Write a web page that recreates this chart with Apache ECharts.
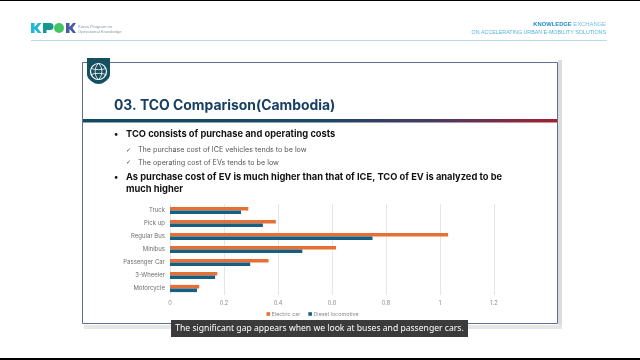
<!DOCTYPE html>
<html><head><meta charset="utf-8">
<style>html,body{margin:0;padding:0;background:#fff}#c{width:640px;height:360px}</style>
<script src="https://cdn.jsdelivr.net/npm/echarts@6/dist/echarts.min.js"></script>
</head><body><div id="c"></div>
<script>
const categories = ['Truck','Pick up','Regular Bus','Minibus','Passenger Car','3-Wheeler','Motorcycle'];
const electricCar = [0.29,0.392,1.03,0.615,0.365,0.175,0.108];
const dieselLocomotive = [0.263,0.344,0.75,0.49,0.297,0.167,0.1];
const seriesNames = ['Electric car','Diesel locomotive'];
const pageTitle = '03. TCO Comparison(Cambodia)';
const bullets = ['TCO consists of purchase and operating costs','As purchase cost of EV is much higher than that of ICE, TCO of EV is analyzed to be','much higher'];
const checks = ['The purchase cost of ICE vehicles tends to be low','The operating cost of EVs tends to be low'];
const caption = 'The significant gap appears when we look at buses and passenger cars.';
const F = 'Inter, "Open Sans", sans-serif';
const txt = (x,y,text,size,fill,weight,align,family) => ({type:'text',x,y,z:5,style:{text,fontSize:size,fill,fontWeight:weight||'normal',fontFamily:family||F,align:align||'left',verticalAlign:'middle'}});
const rect = (x,y,w,h,fill,z) => ({type:'rect',shape:{x,y,width:w,height:h},z:z||1,style:{fill}});
const curve = (x1,y1,cpx1,cpy1,cpx2,cpy2,x2,y2,w) => ({type:'bezierCurve',z:5,shape:{x1,y1,cpx1,cpy1,cpx2,cpy2,x2,y2},style:{fill:'none',stroke:'#fff',lineWidth:w}});
const graphic = [
 rect(0,0,640,1,'#000',1), rect(0,358,640,2,'#000',1),
 // header
 {type:'polygon',z:2,shape:{points:[[31,23],[34.5,23],[34.5,27],[38,23],[41.5,23],[37.5,28],[41.5,33],[38,33],[34.5,29],[34.5,33],[31,33]]},style:{fill:'#22b8d8'}},
 rect(43,23,3.5,10,'#17988f',2), rect(43,23,7,7,'#17988f',2),
 {type:'circle',z:2,shape:{cx:50,cy:26.5,r:3.5},style:{fill:'#17988f'}},
 {type:'circle',z:2,shape:{cx:59,cy:28,r:5},style:{fill:'#45c463'}},
 {type:'polygon',z:2,shape:{points:[[66,23],[69.5,23],[69.5,27],[73,23],[76,23],[72.5,28],[76,33],[73,33],[69.5,29],[69.5,33],[66,33]]},style:{fill:'#4a5aa8'}},
 txt(78,26.5,'Korea Program on',4.2,'#8a9aa8','normal','left','"Liberation Sans"'), txt(78,32,'Operational Knowledge',4.2,'#8a9aa8','normal','left','"Liberation Sans"'),
 rect(31,40,576,1,'#b9dbe8',1),
 {type:'text',x:606,y:24.5,z:5,scaleX:0.94,originX:0,style:{align:'right',verticalAlign:'middle',fontFamily:'"Liberation Sans"',fontSize:6.2,text:'{a|KNOWLEDGE} {b|EXCHANGE}',rich:{a:{fill:'#1f8fc4',fontWeight:'bold',fontSize:6.2,fontFamily:'"Liberation Sans"'},b:{fill:'#6fbfe0',fontSize:6.2,fontFamily:'"Liberation Sans"'}}}},
 Object.assign(txt(606,32.5,'ON ACCELERATING URBAN E-MOBILITY SOLUTIONS',6.2,'#55b4dc','normal','right','"Liberation Sans"'),{scaleX:0.86,originX:0}),
 // slide frame
 rect(558,60,4,268,'#dcdcdc',1),
 rect(84,325,478,4,'#e6e6e6',1),
 {type:'rect',z:2,shape:{x:82.5,y:62.5,width:475,height:261},style:{fill:'#fff',stroke:'#5c7096',lineWidth:1}},
 {type:'rect',z:3,shape:{x:83,y:119,width:474,height:3.5},style:{fill:new echarts.graphic.LinearGradient(0,0,1,0,[{offset:0,color:'#124a62'},{offset:.5,color:'#1d4766'},{offset:.75,color:'#4a3a60'},{offset:1,color:'#a3212f'}])}},
 {type:'polygon',z:4,shape:{points:[[87,58],[110,58],[110,75],[109,78],[106,81],[102,83.5],[98.5,84],[95,83.5],[91,81],[88,78],[87,75]]},style:{fill:'#14505f'}},
 {type:'circle',z:5,shape:{cx:98.5,cy:71.5,r:8},style:{fill:'none',stroke:'#fff',lineWidth:1.2}},
 curve(98.5,63.5,94,67,94,76,98.5,79.5,.8), curve(98.5,63.5,103,67,103,76,98.5,79.5,.8),
 curve(91,68.5,95,70,102,70,106,68.5,.8), curve(91,74.5,95,73,102,73,106,74.5,.8),
 txt(114,106,pageTitle,13.9,'#173f63','bold'),
 // body
 txt(114,134.5,'•',9,'#111','bold'), txt(126,134.5,bullets[0],9.3,'#111','bold'),
 txt(126,150,'✓',6,'#444','normal','left','"DejaVu Sans"'), txt(138,150,checks[0],7.15,'#555'),
 txt(126,162.5,'✓',6,'#444','normal','left','"DejaVu Sans"'), txt(138,162.5,checks[1],7.15,'#555'),
 txt(114,177.5,'•',9,'#111','bold'), txt(126,177.5,bullets[1],9.3,'#111','bold'), txt(126,189.5,bullets[2],9.3,'#111','bold'),
 // caption
 rect(171,320,297,17,'#3b3b3b',10),
 {type:'text',x:319.5,y:328.5,z:11,style:{text:caption,fontSize:8.6,fill:'#fff',fontFamily:'"Noto Sans"',align:'center',verticalAlign:'middle'}}
];
const chart = echarts.init(document.getElementById('c'),null,{renderer:'canvas'});
chart.setOption({
 animation:false,
 backgroundColor:'#fff',
 graphic,
 grid:{left:170,top:204,width:324,height:91,containLabel:false,z:6},
 legend:{data:seriesNames,left:266.5,top:311.5,padding:0,itemWidth:3.6,itemHeight:3.6,itemGap:8,icon:'rect',z:6,
  textStyle:{fontSize:5.4,color:'#8a8a8a',fontFamily:F,padding:[0,0,0,-3.5]}},
 xAxis:{type:'value',position:'bottom',min:0,max:1.2,interval:0.2,z:6,axisLine:{show:false},axisTick:{show:false},
  axisLabel:{fontSize:5.6,color:'#8a8a8a',fontFamily:F,margin:5,showMaxLabel:true},
  splitLine:{lineStyle:{color:'#e6e6e6',width:1}}},
 yAxis:{type:'category',inverse:true,data:categories,z:6,axisLine:{show:false},axisTick:{show:false},
  axisLabel:{fontSize:6,color:'#6e6e6e',fontFamily:F,margin:5}},
 series:[
  {name:seriesNames[0],type:'bar',data:electricCar,barWidth:3.6,barGap:0,z:6,itemStyle:{color:'#e56f34'}},
  {name:seriesNames[1],type:'bar',data:dieselLocomotive,barWidth:3.6,barGap:0,z:6,itemStyle:{color:'#156082'}}
 ]
});
</script></body></html>
